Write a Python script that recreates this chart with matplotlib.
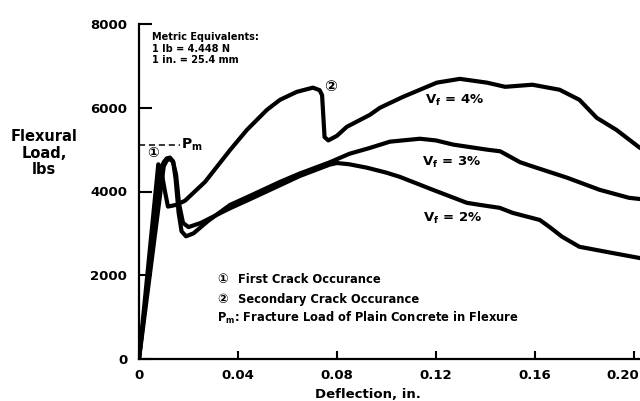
import matplotlib
matplotlib.use("Agg")
import matplotlib.pyplot as plt
import matplotlib.transforms as mtransforms

plt.rcParams['font.family'] = ['DejaVu Sans', 'Noto Sans CJK JP']
plt.rcParams['font.weight'] = 'bold'

# load-deflection curves (deflection in in., load in lbs)
defl_4 = [0, 0.0078, 0.0090, 0.0105, 0.0117, 0.0150, 0.0186, 0.0267, 0.0368, 0.0436, 0.0517,
          0.0570, 0.0638, 0.0703, 0.0730, 0.0740, 0.0745, 0.0750, 0.0765, 0.0800, 0.0840, 0.0933,
          0.0974, 0.1067, 0.1204, 0.1297, 0.1406, 0.1480, 0.1590, 0.1700, 0.1780, 0.1850, 0.1930,
          0.2025]
load_4 = [0, 4650, 4500, 4000, 3640, 3680, 3780, 4230, 4990, 5470, 5950,
          6190, 6380, 6480, 6420, 6300, 5800, 5300, 5220, 5330, 5545, 5830,
          6000, 6260, 6600, 6690, 6600, 6500, 6550, 6430, 6190, 5760, 5470,
          5040]

defl_3 = [0, 0.0088, 0.0100, 0.0112, 0.0125, 0.0138, 0.0148, 0.0160, 0.0172, 0.0190, 0.0220,
          0.0280, 0.0368, 0.0450, 0.0570, 0.0650, 0.0772, 0.0850, 0.0933, 0.1014, 0.1135,
          0.1200, 0.1270, 0.1406, 0.1460, 0.1540, 0.1590, 0.1730, 0.1862, 0.1980, 0.2025]
load_3 = [0, 4550, 4700, 4790, 4810, 4720, 4300, 3500, 3050, 2930, 3000,
          3300, 3680, 3900, 4230, 4430, 4700, 4900, 5040, 5190, 5260,
          5220, 5120, 5000, 4960, 4700, 4600, 4330, 4040, 3850, 3820]

defl_2 = [0, 0.0100, 0.0112, 0.0125, 0.0138, 0.0150, 0.0162, 0.0178, 0.0200, 0.0250, 0.0300,
          0.0368, 0.0450, 0.0570, 0.0650, 0.0770, 0.0800, 0.0850, 0.0920, 0.1000, 0.1054,
          0.1188, 0.1325, 0.1378, 0.1458, 0.1510, 0.1620, 0.1660, 0.1710, 0.1780, 0.1915, 0.2025]
load_2 = [0, 4600, 4740, 4780, 4700, 4400, 3700, 3250, 3150, 3250, 3400,
          3600, 3820, 4150, 4370, 4640, 4680, 4650, 4570, 4450, 4350,
          4040, 3730, 3680, 3610, 3490, 3320, 3150, 2920, 2680, 2530, 2410]

pm_load = 5110  # fracture load of plain concrete
x_ticks = [0, 0.04, 0.08, 0.12, 0.16, 0.20]
x_labels = ['0', '0.04', '0.08', '0.12', '0.16', '0.20']
y_ticks = [0, 2000, 4000, 6000, 8000]

fig = plt.figure(figsize=(6.4, 4.01), dpi=100)
ax = fig.add_axes([139 / 640, 42 / 401, 501 / 640, 335 / 401])

for d, l in [(defl_4, load_4), (defl_3, load_3), (defl_2, load_2)]:
    ax.plot(d, l, color='black', lw=3.0, solid_joinstyle='round', solid_capstyle='round')

# P_m dashed line
ax.plot([0, 0.0166], [pm_load, pm_load], color='black', lw=1.1, dashes=(4, 2.5))
ax.text(0.0170, 5015, r'P$_{\mathbf{m}}$', fontsize=10, ha='left', va='baseline')
ax.text(0.0057, 4919, '\u2460', fontsize=10, ha='center', va='center')
ax.text(0.0776, 6519, '\u2461', fontsize=11, ha='center', va='center')

# curve labels
ax.text(0.1155, 6185, r'V$_{\mathbf{f}}$ = 4%', fontsize=9.5, ha='left', va='center')
ax.text(0.1143, 4704, r'V$_{\mathbf{f}}$ = 3%', fontsize=9.5, ha='left', va='center')
ax.text(0.1147, 3367, r'V$_{\mathbf{f}}$ = 2%', fontsize=9.5, ha='left', va='center')

ax.text(0.0053, 7800, 'Metric Equivalents:\n1 lb = 4.448 N\n1 in. = 25.4 mm',
        fontsize=7, ha='left', va='top', linespacing=1.15)

# notes
ax.text(0.0339, 1815, '\u2460', fontsize=9, ha='center', va='baseline')
ax.text(0.0400, 1815, 'First Crack Occurance', fontsize=8.3, ha='left', va='baseline')
ax.text(0.0339, 1337, '\u2461', fontsize=9, ha='center', va='baseline')
ax.text(0.0400, 1337, 'Secondary Crack Occurance', fontsize=8.3, ha='left', va='baseline')
ax.text(0.0315, 884, r'P$_{\mathbf{m}}$: Fracture Load of Plain Concrete in Flexure',
        fontsize=8.3, ha='left', va='baseline')

ax.set_xlim(0, 0.2025)
ax.set_ylim(0, 8000)
ax.set_xticks(x_ticks)
ax.set_xticklabels(x_labels)
ax.set_yticks(y_ticks)
ax.tick_params(axis='y', direction='in', length=9, width=1.5, pad=8.5, labelsize=9.5)
ax.tick_params(axis='x', direction='in', length=6, width=1.5, pad=7, labelsize=9.5)
for lab in ax.get_xticklabels() + ax.get_yticklabels():
    lab.set_fontweight('bold')

# keep the last x label inside the picture
last = ax.get_xticklabels()[-1]
last.set_horizontalalignment('right')
last.set_transform(last.get_transform() + mtransforms.ScaledTranslation(5 / 100, 0, fig.dpi_scale_trans))

ax.spines['top'].set_visible(False)
ax.spines['right'].set_visible(False)
ax.spines['left'].set_linewidth(1.6)
ax.spines['bottom'].set_linewidth(1.6)

fig.text(44 / 640, 1 - 153 / 401, 'Flexural\nLoad,\nlbs', fontsize=10.5, ha='center',
         va='center', linespacing=1.1)
fig.text(368 / 640, 1 - 395 / 401, 'Deflection, in.', fontsize=9.5, ha='center', va='center')

fig.savefig('out.png', dpi=100)
